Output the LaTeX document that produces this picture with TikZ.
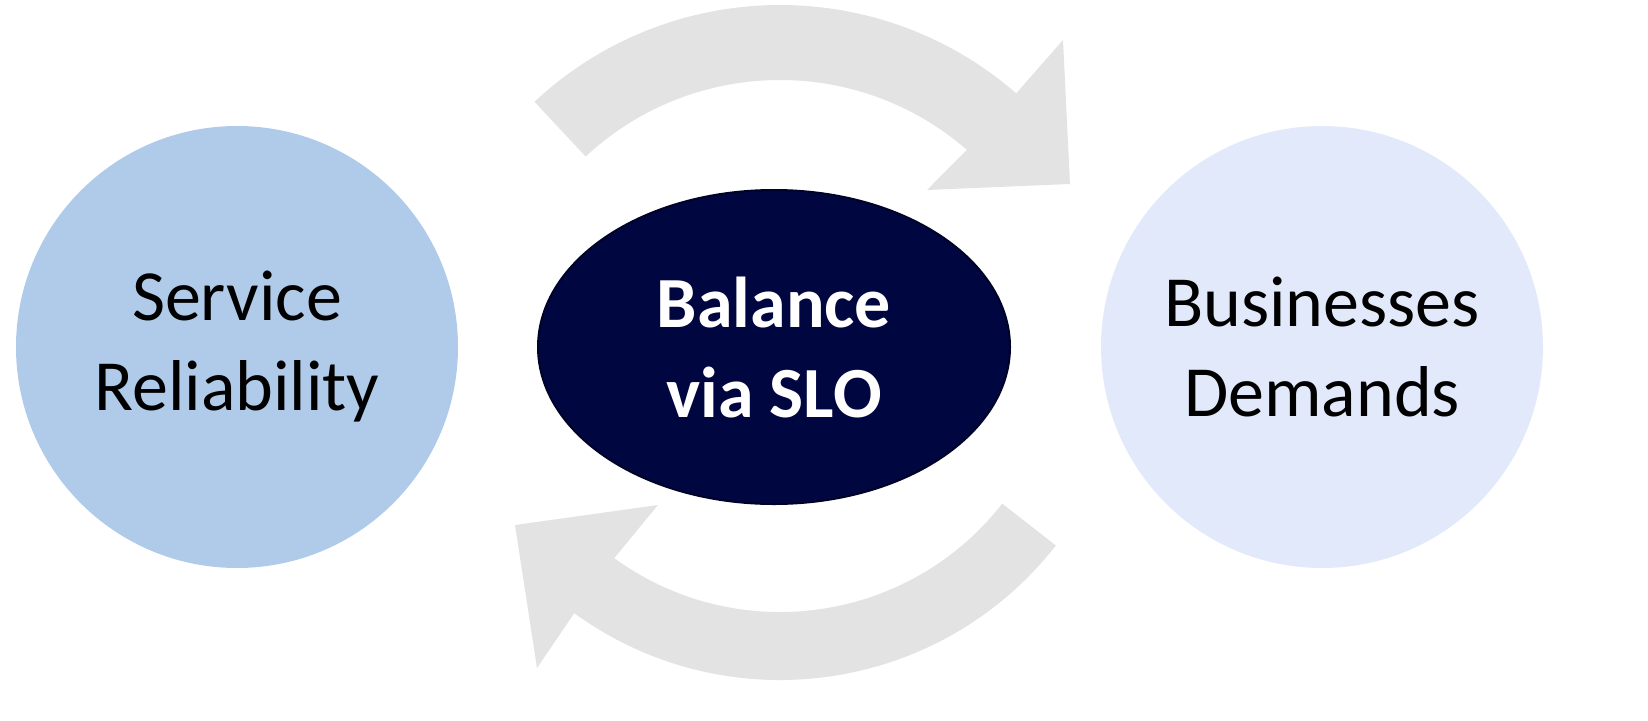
\documentclass[tikz,border=0pt]{standalone}
\usepackage{fontspec}
\setmainfont{Carlito}
\usetikzlibrary{shapes.geometric}
\begin{document}
\begin{tikzpicture}[x=0.5pt,y=0.5pt,
  lbl/.style={align=center,font=\fontsize{36}{45}\selectfont}]
\useasboundingbox (0,0) rectangle (1648,720);
\fill[gray!22] ([shift={(780,355)}]133:360) arc[start angle=133,end angle=49,radius=360]
  -- (1063,680) -- (1070,536) -- (927,530) -- ([shift={(780,355)}]49:285)
  arc[start angle=49,end angle=133,radius=285] -- cycle;
\fill[gray!22] ([shift={(780,390)}]-38:350) arc[start angle=-38,end angle=-126,radius=350]
  -- (537,52) -- (515,195) -- (658,215) -- ([shift={(780,390)}]-126:282)
  arc[start angle=-126,end angle=-38,radius=282] -- cycle;
\node[circle,fill={rgb,255:red,176;green,203;blue,234},minimum size=221pt,inner sep=0] (sr) at (237,373) {};
\node[lbl] at (sr) {Service\\Reliability};
\node[circle,fill={rgb,255:red,226;green,233;blue,250},minimum size=221pt,inner sep=0] (bd) at (1322,373) {};
\node[lbl] at (bd) {Businesses\\Demands};
\node[ellipse,fill={rgb,255:red,0;green,6;blue,64},draw={rgb,255:red,0;green,3;blue,40},line width=1pt,minimum width=236pt,minimum height=157pt,inner sep=0] (b) at (774,373) {};
\node[lbl,text=white,font=\fontsize{36}{45}\selectfont\bfseries] at (b) {Balance\\via SLO};
\end{tikzpicture}
\end{document}
